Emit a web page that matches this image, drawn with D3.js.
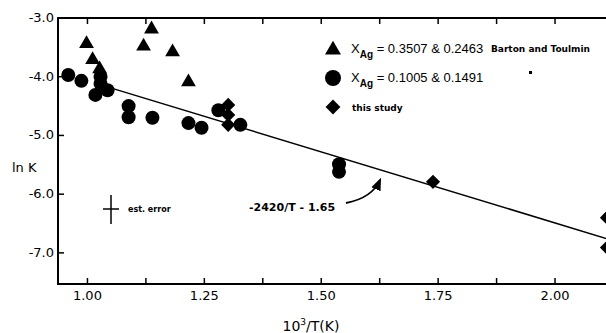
<!DOCTYPE html>
<html>
<head>
<meta charset="utf-8">
<script src="https://cdn.jsdelivr.net/npm/d3@7"></script>
<style>
  body { margin: 0; background: #fff; }
  svg { display: block; }
  text { font-family: "DejaVu Sans", sans-serif; fill: #000; }
</style>
</head>
<body>
<div id="chart"></div>
<script>
"use strict";

// ln K vs 1000/T
var bartonHigh = [
  [0.998, -3.44], [1.011, -3.71], [1.026, -3.87], [1.120, -3.48],
  [1.137, -3.19], [1.182, -3.58], [1.216, -4.09]
];
var bartonLow = [
  [0.959, -3.97], [0.987, -4.07], [1.028, -4.00], [1.028, -4.12],
  [1.017, -4.31], [1.043, -4.23], [1.088, -4.50], [1.088, -4.69],
  [1.139, -4.70], [1.216, -4.79], [1.244, -4.87], [1.280, -4.57],
  [1.327, -4.82], [1.538, -5.49], [1.538, -5.62]
];
var thisStudy = [
  [1.301, -4.48], [1.301, -4.65], [1.301, -4.82], [1.739, -5.79],
  [2.111, -6.40], [2.111, -6.91]
];
var fitRange = [1.03, 2.12];
var xTickLabels = ["1.00", "1.25", "1.50", "1.75", "2.00"];
var yTickLabels = ["-3.0", "-4.0", "-5.0", "-6.0", "-7.0"];

function fit(x) {
  return -2.42 * x - 1.65;
}

var width = 606, height = 333;
var x = d3.scaleLinear().domain([0.937, 2.109]).range([58, 606]);
var y = d3.scaleLinear().domain([-7.53, -3.0]).range([284, 18]);

var svg = d3.select("#chart").append("svg")
  .attr("width", width)
  .attr("height", height);

// frame
svg.append("path")
  .attr("d", "M606," + y(-3.0) + "H" + x.range()[0] + "V" + y(-7.53) + "H606")
  .attr("fill", "none")
  .attr("stroke", "#000")
  .attr("stroke-width", 2);

// x ticks every 0.125, top and bottom, pointing inward
var xt = d3.range(1.0, 2.11, 0.125);
svg.selectAll(".xtb").data(xt).enter().append("line")
  .attr("x1", function(d) { return x(d); })
  .attr("x2", function(d) { return x(d); })
  .attr("y1", y(-7.53))
  .attr("y2", y(-7.53) - 6)
  .attr("stroke", "#000").attr("stroke-width", 1.5);
svg.selectAll(".xtt").data(xt).enter().append("line")
  .attr("x1", function(d) { return x(d); })
  .attr("x2", function(d) { return x(d); })
  .attr("y1", y(-3.0))
  .attr("y2", y(-3.0) + 6)
  .attr("stroke", "#000").attr("stroke-width", 1.5);

svg.selectAll(".xl").data(xTickLabels).enter().append("text")
  .attr("x", function(d) { return x(+d); })
  .attr("y", 300)
  .attr("text-anchor", "middle")
  .style("font-size", "13px")
  .text(function(d) { return d; });

// y ticks
svg.selectAll(".yt").data(yTickLabels).enter().append("line")
  .attr("x1", x.range()[0])
  .attr("x2", x.range()[0] + 6)
  .attr("y1", function(d) { return y(+d); })
  .attr("y2", function(d) { return y(+d); })
  .attr("stroke", "#000").attr("stroke-width", 1.5);
svg.selectAll(".yl").data(yTickLabels).enter().append("text")
  .attr("x", 54)
  .attr("y", function(d) { return y(+d) + 4; })
  .attr("text-anchor", "end")
  .style("font-size", "13px")
  .text(function(d) { return d; });

// axis titles
svg.append("text")
  .attr("x", 12).attr("y", 172)
  .style("font-size", "13px")
  .text("ln K");

var xl = svg.append("text")
  .attr("x", 311).attr("y", 331)
  .attr("text-anchor", "middle")
  .style("font-size", "14px");
xl.append("tspan").text("10");
xl.append("tspan").attr("dy", -6).style("font-size", "9px").text("3");
xl.append("tspan").attr("dy", 6).text("/T(K)");

// fitted line
var line = d3.line()
  .x(function(d) { return x(d); })
  .y(function(d) { return y(fit(d)); });
svg.append("path")
  .datum(fitRange)
  .attr("d", line)
  .attr("fill", "none")
  .attr("stroke", "#000")
  .attr("stroke-width", 1.5);

// markers
var tri = d3.symbol().type(d3.symbolTriangle).size(95);
var sq = d3.symbol().type(d3.symbolSquare).size(100);

svg.selectAll(".tri").data(bartonHigh).enter().append("path")
  .attr("d", tri)
  .attr("transform", function(d) { return "translate(" + x(d[0]) + "," + y(d[1]) + ")"; });

svg.selectAll(".circ").data(bartonLow).enter().append("circle")
  .attr("cx", function(d) { return x(d[0]); })
  .attr("cy", function(d) { return y(d[1]); })
  .attr("r", 7);

svg.selectAll(".dia").data(thisStudy).enter().append("path")
  .attr("d", sq)
  .attr("transform", function(d) { return "translate(" + x(d[0]) + "," + y(d[1]) + ") rotate(45)"; });

// legend
svg.append("path").attr("d", d3.symbol().type(d3.symbolTriangle).size(110))
  .attr("transform", "translate(333,50)");
svg.append("circle").attr("cx", 333).attr("cy", 78).attr("r", 8);
svg.append("path").attr("d", d3.symbol().type(d3.symbolSquare).size(110))
  .attr("transform", "translate(333,107) rotate(45)");

function xag(yy, rest) {
  var t = svg.append("text").attr("x", 351).attr("y", yy)
    .style("font-family", "'Liberation Sans', sans-serif")
    .style("font-size", "13px");
  t.append("tspan").text("X");
  t.append("tspan").attr("dy", 5).style("font-size", "10px").style("font-weight", "bold").text("Ag");
  t.append("tspan").attr("dy", -5).text(rest);
  return t;
}
xag(53, " = 0.3507 & 0.2463");
xag(82, " = 0.1005 & 0.1491");
svg.append("text").attr("x", 491).attr("y", 52)
  .style("font-size", "9px").style("font-weight", "bold")
  .text("Barton and Toulmin");
svg.append("rect").attr("x", 529).attr("y", 71).attr("width", 3).attr("height", 3);
svg.append("text").attr("x", 352).attr("y", 111)
  .style("font-size", "9px").style("font-weight", "bold")
  .text("this study");

// error bar
svg.append("line").attr("x1", 111).attr("x2", 111).attr("y1", 195).attr("y2", 224)
  .attr("stroke", "#000").attr("stroke-width", 1.5);
svg.append("line").attr("x1", 103).attr("x2", 119).attr("y1", 209).attr("y2", 209)
  .attr("stroke", "#000").attr("stroke-width", 1.5);
svg.append("text").attr("x", 128).attr("y", 212)
  .style("font-size", "8px").style("font-weight", "bold")
  .text("est. error");

// annotation
svg.append("text").attr("x", 249).attr("y", 211)
  .style("font-size", "11px").style("font-weight", "bold")
  .text("-2420/T - 1.65");
svg.append("defs").append("marker")
  .attr("id", "ah").attr("viewBox", "0 0 10 10")
  .attr("refX", 8).attr("refY", 5)
  .attr("markerWidth", 7).attr("markerHeight", 7)
  .attr("orient", "auto")
  .append("path").attr("d", "M0,1L10,5L0,9Z");
svg.append("path")
  .attr("d", "M346,203Q372,198,380,180")
  .attr("fill", "none")
  .attr("stroke", "#000")
  .attr("stroke-width", 1.8)
  .attr("marker-end", "url(#ah)");
</script>
</body>
</html>
